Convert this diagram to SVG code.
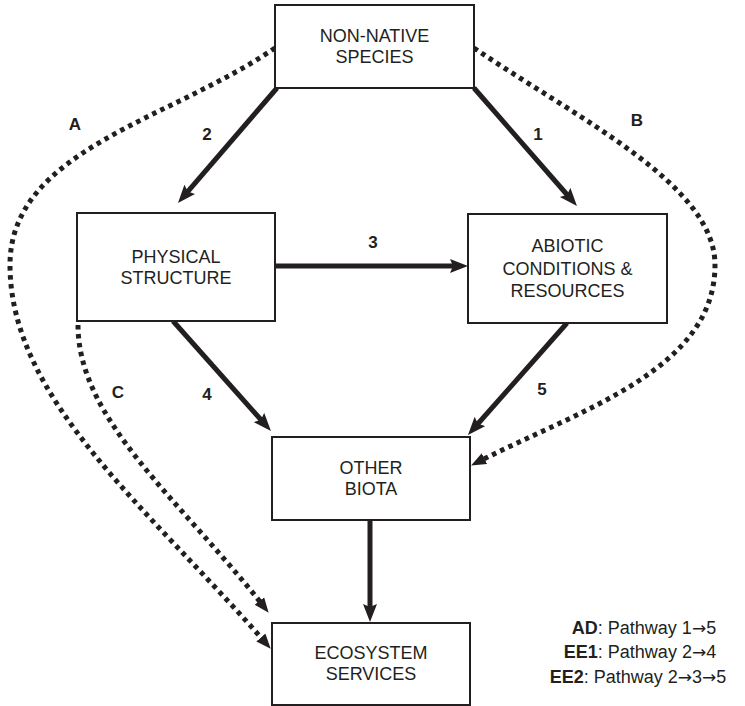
<svg xmlns="http://www.w3.org/2000/svg" width="745" height="706" viewBox="0 0 745 706">
<defs>
<style>
.box{fill:#fff;stroke:#231f20;stroke-width:2}
.nt{font-family:"Liberation Sans",Arial,sans-serif;font-size:18px;fill:#231f20;text-anchor:middle}
.lb{font-family:"Liberation Sans",Arial,sans-serif;font-size:17px;font-weight:bold;fill:#231f20;text-anchor:middle}
.lg{font-family:"Liberation Sans",Arial,sans-serif;font-size:18px;fill:#231f20;text-anchor:middle}
.ar{font-family:"DejaVu Sans",sans-serif;font-size:17px}
.solid{fill:none;stroke:#231f20;stroke-width:5;marker-end:url(#ah)}
.dot{fill:none;stroke:#231f20;stroke-width:5;stroke-dasharray:4.5 4.5;marker-end:url(#ahd)}
</style>
<marker id="ah" markerUnits="userSpaceOnUse" markerWidth="20" markerHeight="16" refX="8" refY="7" orient="auto" viewBox="0 0 20 16">
<path d="M0,0 L18,7 L0,14 L3,7 z" fill="#231f20"/>
</marker>
<marker id="ahd" markerUnits="userSpaceOnUse" markerWidth="18" markerHeight="14" refX="6" refY="6" orient="auto" viewBox="0 0 18 14">
<path d="M0,0 L15,6 L0,12 z" fill="#231f20"/>
</marker>
</defs>
<rect width="745" height="706" fill="#fff"/>
<g id="connectors">
<line class="solid" x1="277" y1="88" x2="184.5" y2="195.4"/>
<line class="solid" x1="474" y1="88" x2="570.4" y2="198.5"/>
<line class="solid" x1="275" y1="266" x2="458" y2="266"/>
<line class="solid" x1="173" y1="321" x2="264.3" y2="423.5"/>
<line class="solid" x1="567" y1="323" x2="474.6" y2="427.5"/>
<line class="solid" x1="370" y1="520" x2="370" y2="612"/>
<path class="dot" d="M275,48 C170,120 10,150 10,265 C10,400 150,510 264.8,642"/>
<path class="dot" d="M78,325 C78,420 180,500 263.1,605.7"/>
<path class="dot" d="M474,48 C580,120 715,185 715,265 C715,370 580,410 479.1,461.4"/>
<text class="lb" x="75" y="130">A</text>
<text class="lb" x="207" y="140">2</text>
<text class="lb" x="538" y="140">1</text>
<text class="lb" x="637" y="126">B</text>
<text class="lb" x="373" y="248">3</text>
<text class="lb" x="118" y="398">C</text>
<text class="lb" x="207" y="400">4</text>
<text class="lb" x="542" y="395">5</text>
</g>
<g id="non-native">
<rect class="box" x="275" y="5" width="199" height="83"/>
<text class="nt" x="374.5" y="42">NON-NATIVE</text>
<text class="nt" x="374.5" y="63">SPECIES</text>
</g>
<g id="physical">
<rect class="box" x="77" y="213" width="198" height="108"/>
<text class="nt" x="176" y="263">PHYSICAL</text>
<text class="nt" x="176" y="284">STRUCTURE</text>
</g>
<g id="abiotic">
<rect class="box" x="468" y="214" width="199" height="109"/>
<text class="nt" x="567.5" y="252">ABIOTIC</text>
<text class="nt" x="567.5" y="275">CONDITIONS &amp;</text>
<text class="nt" x="567.5" y="297">RESOURCES</text>
</g>
<g id="other-biota">
<rect class="box" x="272" y="437" width="198" height="83"/>
<text class="nt" x="371" y="474">OTHER</text>
<text class="nt" x="371" y="495">BIOTA</text>
</g>
<g id="ecosystem">
<rect class="box" x="272" y="623" width="198" height="82"/>
<text class="nt" x="371" y="659">ECOSYSTEM</text>
<text class="nt" x="371" y="680">SERVICES</text>
</g>
<g id="legend">
<text class="lg" x="644" y="634"><tspan font-weight="bold">AD</tspan>: Pathway 1<tspan class="ar">→</tspan>5</text>
<text class="lg" x="640" y="658"><tspan font-weight="bold">EE1</tspan>: Pathway 2<tspan class="ar">→</tspan>4</text>
<text class="lg" x="638" y="683"><tspan font-weight="bold">EE2</tspan>: Pathway 2<tspan class="ar">→</tspan>3<tspan class="ar">→</tspan>5</text>
</g>
</svg>
